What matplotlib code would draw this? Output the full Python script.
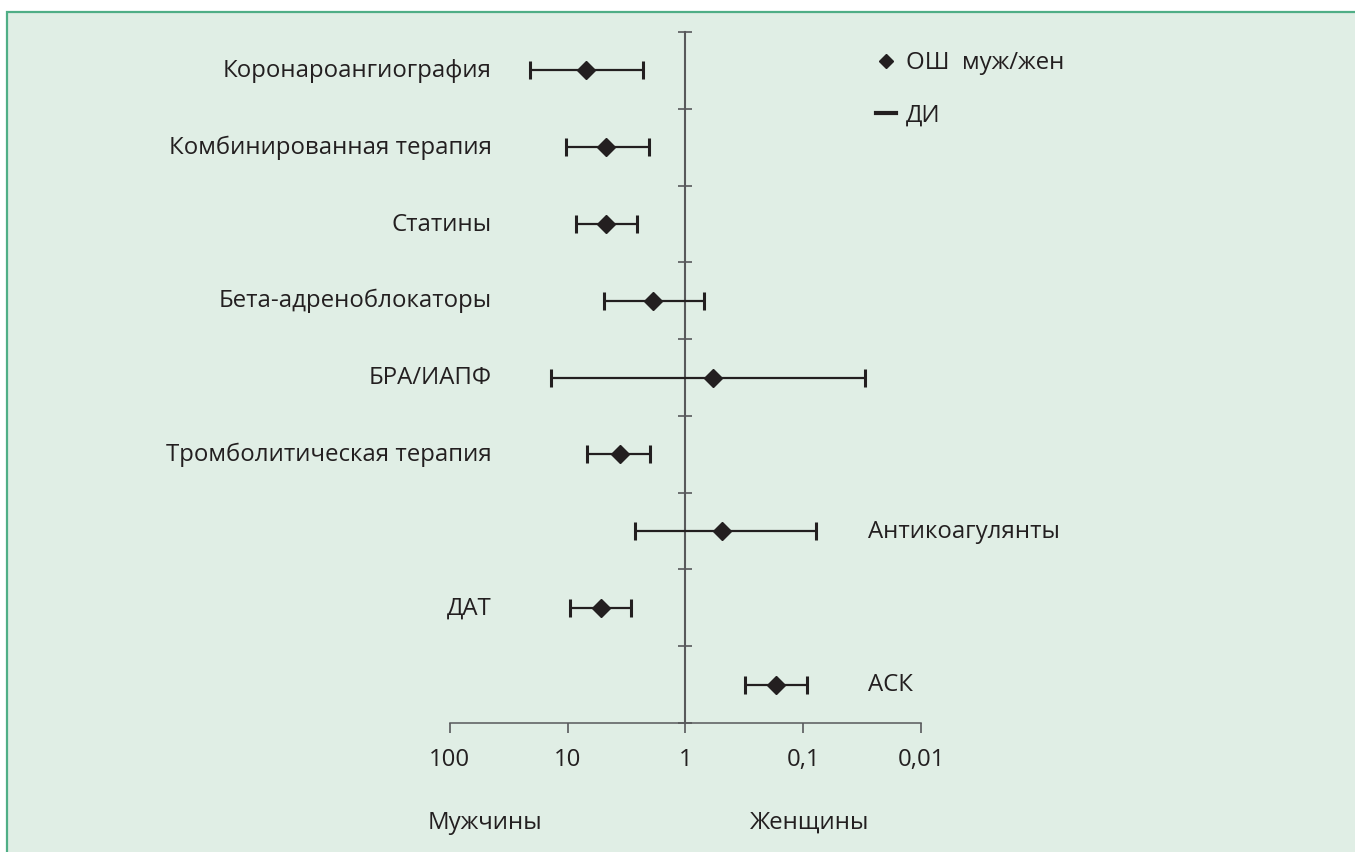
import matplotlib
matplotlib.use("Agg")
import matplotlib.pyplot as plt
from matplotlib.lines import Line2D
from matplotlib.patches import Rectangle
from matplotlib import transforms

# ---- data (odds ratio men/women with CI), top to bottom ----
categories = ["Коронароангиография", "Комбинированная терапия", "Статины",
              "Бета-адреноблокаторы", "БРА/ИАПФ", "Тромболитическая терапия",
              "Антикоагулянты", "ДАТ", "АСК"]
or_vals = [6.97, 4.7, 4.7, 1.9, 0.58, 3.6, 0.49, 5.2, 0.17]
ci_high = [21.0, 10.4, 8.5, 4.9, 13.9, 6.8, 2.65, 9.6, 0.31]
ci_low = [2.30, 2.05, 2.55, 0.69, 0.030, 2.0, 0.078, 2.9, 0.092]
label_right = [False, False, False, False, False, False, True, False, True]

xticks = [100, 10, 1, 0.1, 0.01]
xtick_labels = ["100", "10", "1", "0,1", "0,01"]

BG, FRAME = "#e0eee5", "#4fae86"
INK, AXC = "#231f20", "#58595b"
FONT = ["Open Sans", "DejaVu Sans"]
FS = 17.3

plt.rcParams["font.family"] = FONT
W, H = 1355, 852
fig = plt.figure(figsize=(W / 100, H / 100), dpi=100, facecolor="white")
fig.patches.append(Rectangle((6.5 / W, -0.05), 1.2, 1 - 12 / H + 0.05,
                             transform=fig.transFigure, facecolor=BG,
                             edgecolor=FRAME, lw=1.6, zorder=-5))

ax = fig.add_axes([449.7 / W, 1 - 723 / H, (921 - 449.7) / W, (723 - 32) / H])
ax.set_facecolor("none")
ax.set_xscale("log")
ax.set_xlim(100, 0.01)
ax.set_ylim(len(categories), 0)

y = [i + 0.5 for i in range(len(categories))]
xerr = [[o - lo for o, lo in zip(or_vals, ci_low)],
        [hi - o for o, hi in zip(or_vals, ci_high)]]
ax.errorbar(or_vals, y, xerr=xerr, fmt="D", color=INK, ms=8.8, lw=1.6,
            elinewidth=1.6, capsize=6.5, capthick=2.2, zorder=5)

# axes styling
ax.spines["left"].set_position(("data", 1))
ax.spines["left"].set_color(AXC)
ax.spines["left"].set_linewidth(1.5)
ax.spines["bottom"].set_color(AXC)
ax.spines["bottom"].set_linewidth(1.1)
for sp in ("top", "right"):
    ax.spines[sp].set_visible(False)
ax.set_yticks(range(len(categories) + 1))
ax.set_yticklabels([])
ax.tick_params(axis="y", direction="inout", length=10, width=1.2, colors=AXC)
ax.set_xticks(xticks)
ax.set_xticklabels(xtick_labels)
ax.minorticks_off()
ax.tick_params(axis="x", direction="out", length=7.2, width=1.2, color=AXC,
               labelcolor=INK, labelsize=FS, pad=11)

# category labels
trans = transforms.blended_transform_factory(ax.transAxes, ax.transData)
for cat, yy, right in zip(categories, y, label_right):
    if right:
        ax.annotate(cat, (0.8876, yy), xycoords=trans, xytext=(0, -4.8),
                    textcoords="offset points", ha="left", va="baseline",
                    fontsize=FS, color=INK)
    else:
        ax.annotate(cat, (0.0898, yy), xycoords=trans, xytext=(0, -4.8),
                    textcoords="offset points", ha="right", va="baseline",
                    fontsize=FS, color=INK)

# legend
leg = fig.legend(handles=[
    Line2D([0], [0], marker="D", ls="none", color=INK, ms=7.5, label="ОШ  муж/жен"),
    Line2D([0], [0], color=INK, lw=3, label="ДИ"),
], loc="upper left", bbox_to_anchor=(876 / W, 1 - 51 / H), frameon=False,
    fontsize=FS, handlelength=0.85, handletextpad=0.4, labelspacing=1.2,
    borderpad=0, borderaxespad=0)
for t in leg.get_texts():
    t.set_color(INK)

fig.text(428 / W, 1 - 823 / H, "Мужчины", ha="left", va="center", fontsize=FS, color=INK)
fig.text(750 / W, 1 - 823 / H, "Женщины", ha="left", va="center", fontsize=FS, color=INK)

fig.savefig("out.png", dpi=100, facecolor="white")
